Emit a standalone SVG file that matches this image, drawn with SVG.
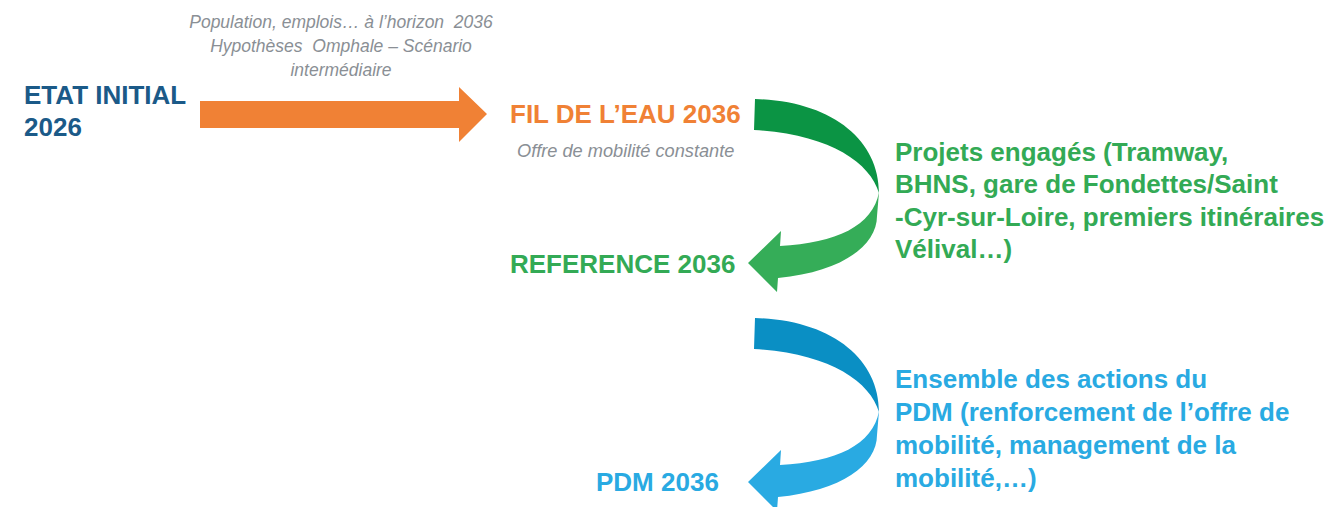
<svg xmlns="http://www.w3.org/2000/svg" width="1329" height="507" viewBox="0 0 1329 507">
<style>
text{font-family:"Liberation Sans",Arial,sans-serif}
.b{font-weight:bold;font-size:26px}
.i{font-style:italic;font-size:17.5px;fill:#8a8f95}
.navy{fill:#1b5a88}
.or{fill:#f08135}
.gr{fill:#33aa55}
.bl{fill:#29aae2}
</style>
<rect width="1329" height="507" fill="#fff"/>
<g id="etat-initial">
<text class="b navy" x="24" y="104">ETAT INITIAL</text>
<text class="b navy" x="24" y="136">2026</text>
</g>
<g id="hypotheses">
<text class="i" x="341" y="28" text-anchor="middle" xml:space="preserve">Population, emplois… à l’horizon  2036</text>
<text class="i" x="341" y="52" text-anchor="middle" xml:space="preserve">Hypothèses  Omphale – Scénario</text>
<text class="i" x="341" y="76" text-anchor="middle">intermédiaire</text>
</g>
<g id="fil-de-l-eau">
<text class="b or" x="510" y="123">FIL DE L’EAU 2036</text>
<text class="i" x="517" y="157" style="font-size:18.2px">Offre de mobilité constante</text>
</g>
<g id="reference">
<text class="b gr" x="510" y="273">REFERENCE 2036</text>
</g>
<g id="projets">
<text class="b gr" x="895" y="161">Projets engagés (Tramway,</text>
<text class="b gr" x="895" y="193">BHNS, gare de Fondettes/Saint</text>
<text class="b gr" x="895" y="226">-Cyr-sur-Loire, premiers itinéraires</text>
<text class="b gr" x="895" y="258">Vélival…)</text>
</g>
<g id="pdm">
<text class="b bl" x="596" y="491">PDM 2036</text>
</g>
<g id="actions">
<text class="b bl" x="895" y="388">Ensemble des actions du</text>
<text class="b bl" x="895" y="421">PDM (renforcement de l’offre de</text>
<text class="b bl" x="895" y="454">mobilité, management de la</text>
<text class="b bl" x="895" y="487">mobilité,…)</text>
</g>
<g id="connectors">
<path fill="#f08135" d="M200 101 L459 101 L459 87 L487 114 L459 142 L459 128 L200 128 Z"/>
<g id="green-arrow">
<path fill="#0b9444" d="M755 99 C832 101 879 140 879 193 C870 162 828 134 754 130 Z"/>
<path fill="#35ad58" d="M879 192 C873 226 836 243 780 246 L781 231 L748 263 L777 292 L778 278 C841 272 877 246 877 216 Z"/>
</g>
<g id="blue-arrow" transform="translate(0 219)">
<path fill="#0a8fc4" d="M755 99 C832 101 879 140 879 193 C870 162 828 134 754 130 Z"/>
<path fill="#29aae2" d="M879 192 C873 226 836 243 780 246 L781 231 L748 263 L777 292 L778 278 C841 272 877 246 877 216 Z"/>
</g>
</g>
</svg>
